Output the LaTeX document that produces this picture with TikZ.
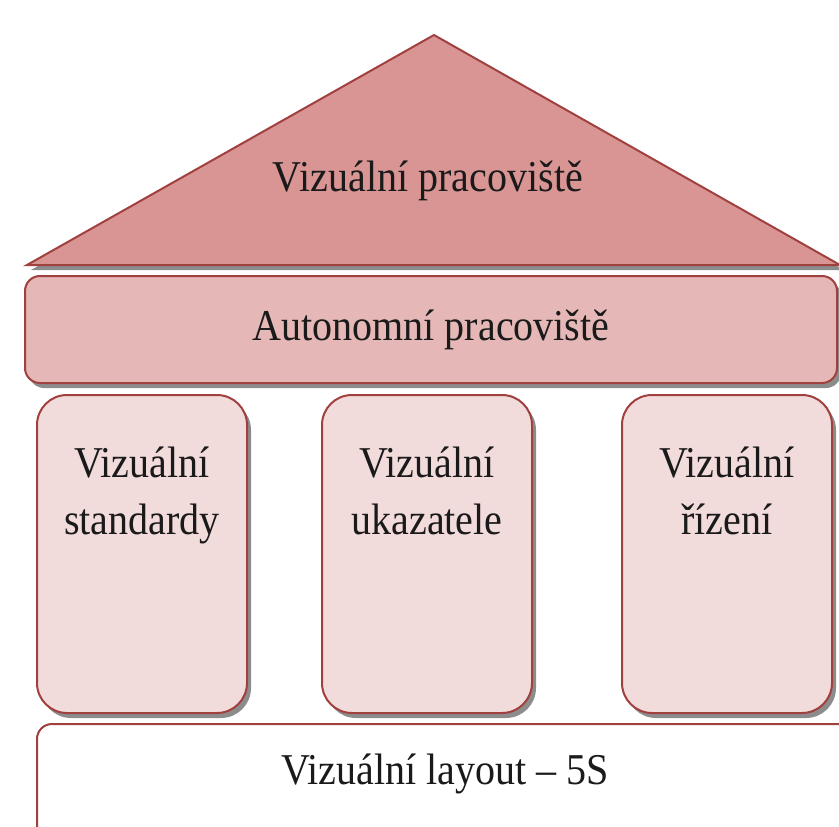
\documentclass[tikz,border=0pt]{standalone}
\usepackage{fontspec}
\setmainfont{Liberation Serif}[FakeStretch=0.91]
\usetikzlibrary{positioning,shadows}
\definecolor{ink}   {HTML}{1A1A1A}
\definecolor{brick} {HTML}{A0403F}
\definecolor{roof}  {HTML}{D99594}
\definecolor{beam}  {HTML}{E5B8B7}
\definecolor{pale}  {HTML}{F2DBDB}
\tikzset{
  every node/.style={font=\fontsize{44}{57}\selectfont, text=ink},
  % --- parts of the house
  part/.style  = {draw=brick, line width=2pt, inner sep=0pt,
                  drop shadow={shadow xshift=4pt, shadow yshift=-5pt, fill=black!60,
                               opacity=0.75}},
  gable/.style = {part, fill=roof, line join=miter},
  beamb/.style = {part, fill=beam, rounded corners=15pt},
  pillar/.style= {part, fill=pale, rounded corners=30pt, minimum width=210pt,
                  minimum height=318pt},
  footb/.style = {draw=brick, line width=2pt, fill=white, rounded corners=15pt,
                  inner sep=0pt},
  plbl/.style  = {align=center, inner sep=0pt},
}
\begin{document}
\begin{tikzpicture}[x=1pt,y=-1pt]
  \useasboundingbox (0,0) rectangle (839,827);
  \clip (0,0) rectangle (839,827);
  % roof
  \coordinate (rl) at (27,265);
  \coordinate (rt) at (434,35);
  \coordinate (rr) at (840,265);
  \draw[gable] (rl) -- (rt) -- (rr) -- cycle;
  \node (roofl) at (428,181) {Vizuální pracoviště};
  % beam
  \node[beamb, minimum width=812pt, minimum height=107pt] (bar) at (431,329.5)
       {Autonomní pracoviště};
  % pillars
  \node[pillar] (p1) at (142,554) {};
  \node[pillar] (p2) at (427,554) {};
  \node[pillar] (p3) at (727,554) {};
  \node[plbl, below=53pt of p1.north] (l1) {Vizuální\\standardy};
  \node[plbl, below=53pt of p2.north] (l2) {Vizuální\\ukazatele};
  \node[plbl, below=53pt of p3.north] (l3) {Vizuální\\řízení};
  % foundation
  \node[footb, minimum width=823pt, minimum height=121pt] (foot) at (448.5,784.5) {};
  \node (footl) at (445,774) {Vizuální layout – 5S};
\end{tikzpicture}
\end{document}
